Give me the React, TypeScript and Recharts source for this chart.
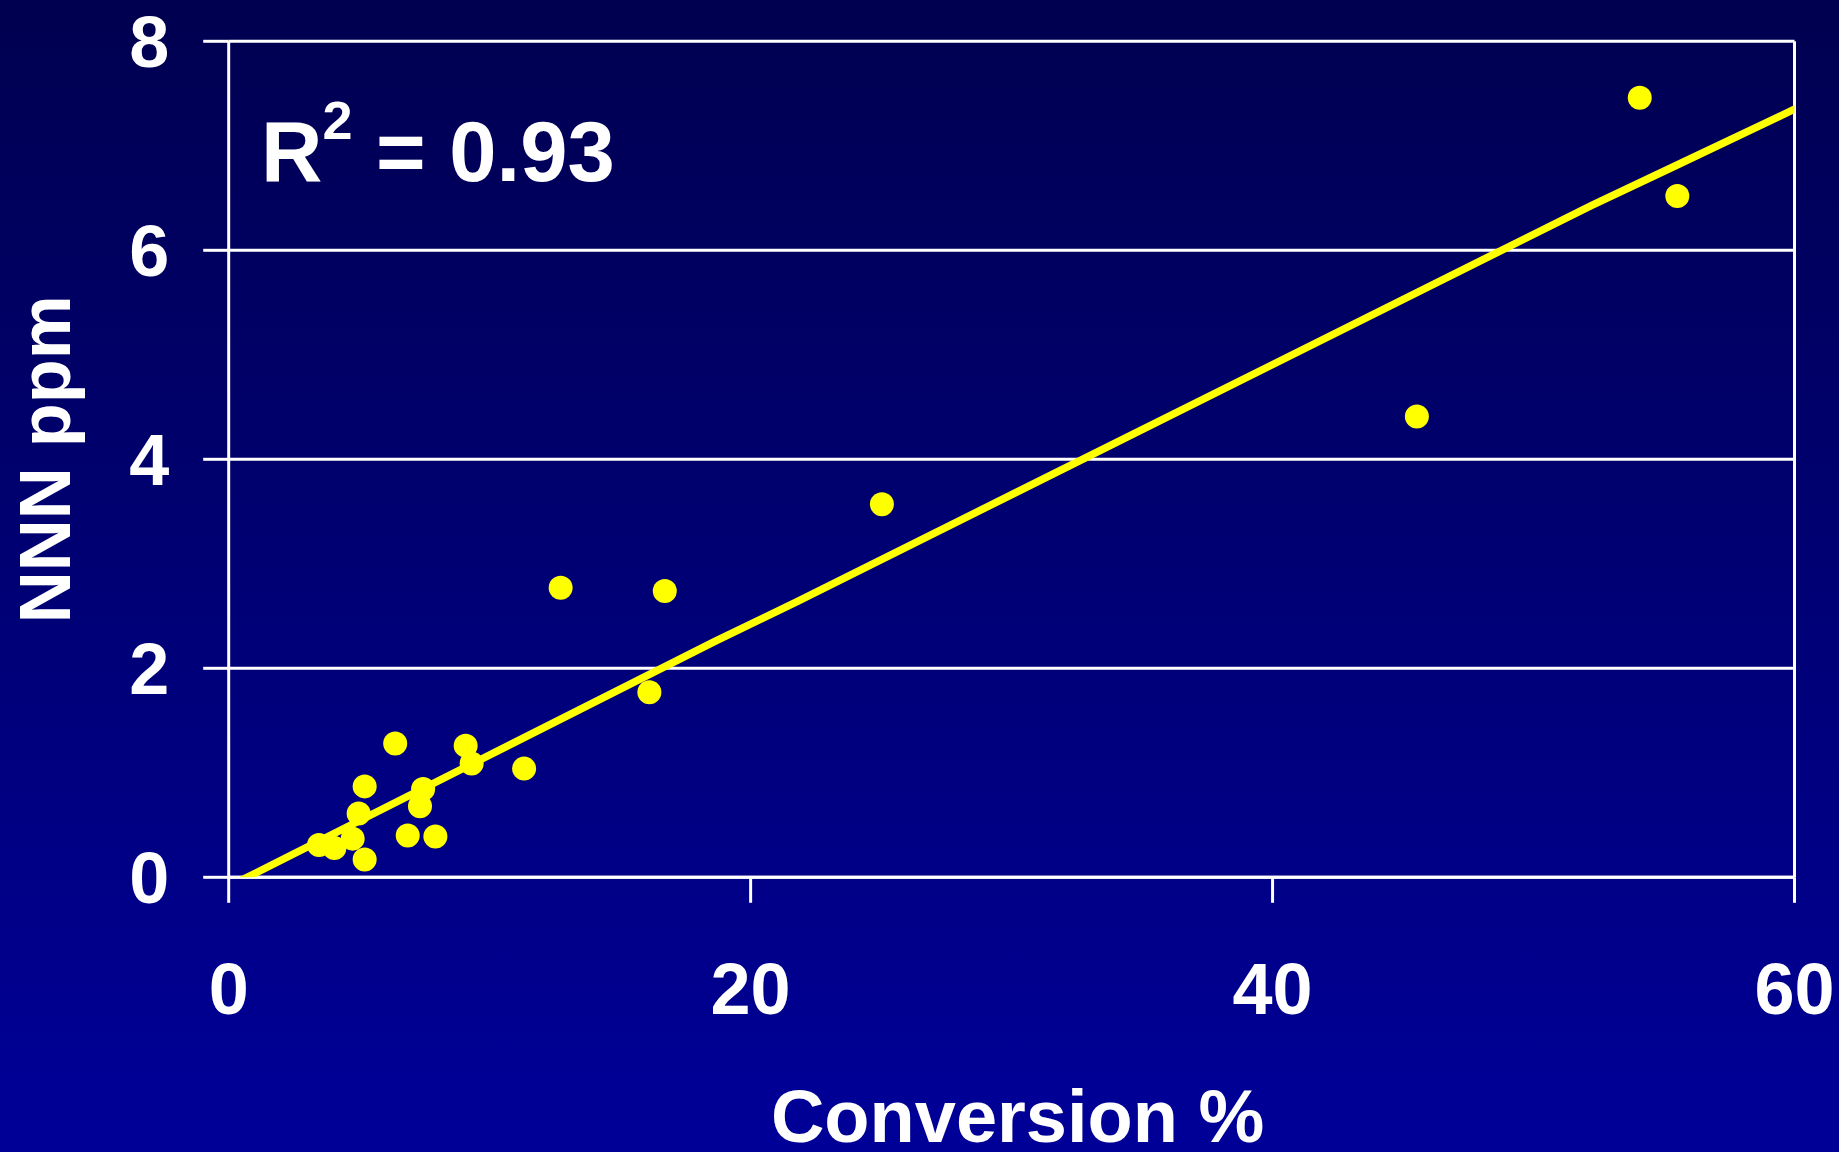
import { ScatterChart, Scatter, XAxis, YAxis, CartesianGrid, ReferenceLine } from "recharts";

const FONT = "'Liberation Sans', Arial, sans-serif";

// measured points (conversion %, NNN ppm)
const conversion = [
  12.72, 16.71, 16.12, 6.38, 9.08, 9.31, 11.32, 5.21, 7.45, 7.33, 4.98, 4.75, 6.86, 7.92, 3.46, 4.05,
  5.21, 25.03, 45.53, 54.07, 55.51,
];
const nnn = [
  2.77, 2.74, 1.77, 1.28, 1.26, 1.09, 1.04, 0.87, 0.845, 0.68, 0.61, 0.37, 0.4, 0.39, 0.31, 0.28, 0.17,
  3.57, 4.41, 7.46, 6.52,
];

// fitted line as drawn on the slide
const trendX = [0.47, 18.65, 21.8, 52.23, 55.28, 60.25];
const trendY = [-0.03, 2.26, 2.64, 6.43, 6.79, 7.38];

const xTicks = [0, 20, 40, 60];
const yTicks = [0, 2, 4, 6, 8];

const points = conversion.map((x, i) => ({ x, y: nnn[i] }));
const trend = trendX.map((x, i) => ({ x, y: trendY[i] }));

const tickStyle = { fill: "#ffffff", fontSize: 72, fontWeight: 700, fontFamily: FONT };

const Dot = (props: any) => <circle cx={props.cx} cy={props.cy} r={12} fill="#ffff00" />;

export default function App() {
  return (
    <div
      style={{
        position: "relative",
        width: 1839,
        height: 1152,
        background: "linear-gradient(to bottom, #000050, #000098)",
        overflow: "hidden",
      }}
    >
      <style>{"body{margin:0;overflow:hidden}"}</style>
      <ScatterChart width={1839} height={1152} margin={{ top: 41.3, right: 44.5, bottom: 0, left: 0 }}>
        <CartesianGrid vertical={false} stroke="#ffffff" strokeWidth={3} fill="none" />
        <XAxis
          dataKey="x"
          type="number"
          domain={[0, 60]}
          ticks={xTicks}
          interval={0}
          allowDataOverflow
          height={274.7}
          axisLine={{ stroke: "#ffffff", strokeWidth: 3 }}
          tickLine={{ stroke: "#ffffff", strokeWidth: 3 }}
          tickSize={25.5}
          tickMargin={60}
          tick={tickStyle}
          label={{
            value: "Conversion %",
            position: "insideBottom",
            offset: 10,
            dx: 6,
            fill: "#ffffff",
            fontSize: 74,
            fontWeight: 700,
            fontFamily: FONT,
          }}
        />
        <YAxis
          dataKey="y"
          type="number"
          domain={[0, 8]}
          ticks={yTicks}
          interval={0}
          allowDataOverflow
          width={228.7}
          axisLine={{ stroke: "#ffffff", strokeWidth: 3 }}
          tickLine={{ stroke: "#ffffff", strokeWidth: 3 }}
          tickSize={25.5}
          tickMargin={34}
          tick={tickStyle}
          label={{
            value: "NNN ppm",
            angle: -90,
            position: "insideLeft",
            offset: 44,
            fill: "#ffffff",
            fontSize: 72,
            fontWeight: 700,
            fontFamily: FONT,
            style: { textAnchor: "middle" },
          }}
        />
        <ReferenceLine x={60} stroke="#ffffff" strokeWidth={3} />
        <Scatter
          data={trend}
          line={{ stroke: "#ffff00", strokeWidth: 7.5, strokeLinecap: "round" }}
          shape={() => <g />}
          isAnimationActive={false}
        />
        <Scatter data={points} shape={Dot} isAnimationActive={false} />
      </ScatterChart>
      <svg
        width={1839}
        height={1152}
        style={{ position: "absolute", left: 0, top: 0, pointerEvents: "none" }}
      >
        <text x={261} y={181} fill="#ffffff" fontFamily={FONT} fontWeight={700} fontSize={85}>
          R
          <tspan dy={-42} fontSize={54}>
            2
          </tspan>
          <tspan dy={42} fontSize={85}>
            {" = 0.93"}
          </tspan>
        </text>
      </svg>
    </div>
  );
}
